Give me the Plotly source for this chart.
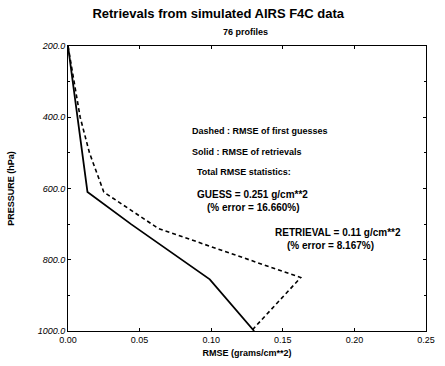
import plotly.graph_objects as go

# Data
guess_rmse = [0.0, 0.004, 0.0085, 0.015, 0.025, 0.063, 0.1625, 0.128]
guess_pres = [200, 300, 400, 500, 610, 712, 850, 1000]
retr_rmse = [0.0, 0.0136, 0.044, 0.099, 0.130]
retr_pres = [200, 610, 700, 855, 1000]

x_ticks = [0.00, 0.05, 0.10, 0.15, 0.20, 0.25]
x_labels = ["0.00", "0.05", "0.10", "0.15", "0.20", "0.25"]
y_ticks = [200, 400, 600, 800, 1000]
y_labels = ["<i>200.0</i>", "<i>400.0</i>", "<i>600.0</i>", "<i>800.0</i>", "<i>1000.0</i>"]

FONT = "Liberation Sans, Arial, sans-serif"

fig = go.Figure()
fig.add_trace(go.Scatter(x=guess_rmse, y=guess_pres, mode="lines",
                         line=dict(color="black", width=1.6, dash="4px,3px"),
                         showlegend=False))
fig.add_trace(go.Scatter(x=retr_rmse, y=retr_pres, mode="lines",
                         line=dict(color="black", width=1.8),
                         showlegend=False))

W, H = 445, 366
L, R, T, B = 68, 10, 46, 33
pw, ph = W - L - R, H - T - B

def px(x):
    return (x - L) / pw

def py(y):
    return 1 - (y - T) / ph

annos = [
    ("<b>Dashed : RMSE of first guesses</b>", 193, 132, 9),
    ("<b>Solid : RMSE of retrievals</b>", 193, 153, 9),
    ("<b>Total RMSE statistics:</b>", 198, 173, 9),
    ("<b>GUESS = 0.251 g/cm**2</b>", 198, 196, 10),
    ("<b>(% error = 16.660%)</b>", 208, 209, 10),
    ("<b>RETRIEVAL = 0.11 g/cm**2</b>", 278, 234, 10),
    ("<b>(% error = 8.167%)</b>", 290, 247, 10),
]
annotations = []
for txt, x, y, s in annos:
    annotations.append(dict(text=txt, x=px(x), y=py(y), xref="paper", yref="paper",
                            xanchor="left", yanchor="middle", showarrow=False,
                            font=dict(family=FONT, size=s, color="black")))
annotations.append(dict(text="<b>76 profiles</b>", x=px(250), y=py(32), xref="paper", yref="paper",
                        xanchor="center", yanchor="middle", showarrow=False,
                        font=dict(family=FONT, size=9, color="black")))

fig.update_layout(
    width=W, height=H,
    margin=dict(l=L, r=R, t=T, b=B),
    paper_bgcolor="white", plot_bgcolor="white",
    title=dict(text="<b>Retrievals from simulated AIRS F4C data</b>", x=px(248), xanchor="center",
               y=1 - 13 / H, yanchor="middle",
               font=dict(family=FONT, size=13, color="black")),
    annotations=annotations,
    font=dict(family=FONT, size=9, color="black"),
    xaxis=dict(range=[0, 0.25], tickvals=x_ticks, ticktext=x_labels,
               showgrid=False, zeroline=False, showline=True, linecolor="black", linewidth=1,
               mirror="ticks", ticks="inside", ticklen=3, tickcolor="black",
               tickfont=dict(family=FONT, size=9, color="black"),
               title=dict(text="<b>RMSE (grams/cm**2)</b>", standoff=5,
                          font=dict(family=FONT, size=9, color="black"))),
    yaxis=dict(range=[1000, 200], tickvals=y_ticks, ticktext=y_labels,
               showgrid=False, zeroline=False, showline=True, linecolor="black", linewidth=1,
               mirror="ticks", ticks="inside", ticklen=3, tickcolor="black",
               minor=dict(ticks="inside", ticklen=2, dtick=100, tickcolor="black"),
               tickfont=dict(family=FONT, size=9, color="black"),
               title=dict(text="<b>PRESSURE (hPa)</b>", standoff=21,
                          font=dict(family=FONT, size=9, color="black"))),
)

fig.write_html("out.html")
